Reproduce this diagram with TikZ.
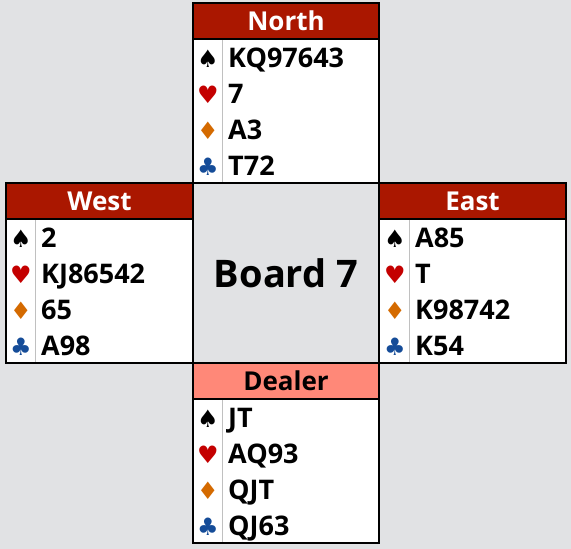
\documentclass[tikz,border=0pt]{standalone}
\usepackage{fontspec}
\setmainfont{Open Sans}[BoldFont={Open Sans Bold}]
\newfontfamily\suitfont{DejaVu Sans}
\definecolor{bggray}{HTML}{E1E2E4}
\definecolor{seatred}{HTML}{AA1700}
\definecolor{dealerpink}{HTML}{FF8878}
\definecolor{heartred}{HTML}{C40000}
\definecolor{diamondorange}{HTML}{D46A00}
\definecolor{clubblue}{HTML}{154C98}
\definecolor{rulegray}{HTML}{C0C0C0}

\begin{document}
\begin{tikzpicture}[x=1pt,y=-1pt,
  hand/.style={draw=black,line width=1.2pt,fill=white},
  seat/.style={draw=black,line width=1.2pt},
  seatname/.style={inner sep=0pt,font=\fontsize{26}{26}\selectfont\bfseries},
  rule/.style={draw=rulegray,line width=0.9pt},
  suit/.style={inner sep=0pt,font=\suitfont\fontsize{24}{24}\selectfont},
  cards/.style={inner sep=0pt,anchor=base west,font=\fontsize{27}{27}\selectfont\bfseries}]
\fill [bggray] (0,0) rectangle (571,549);
\useasboundingbox (0,0) rectangle (571,549);

% North
\draw [hand] (193,3) rectangle (379,183);
\draw [seat,fill=seatred] (193,3) rectangle (379,39);
\node [seatname,text=white] (north) at (286,21) {North};
\draw [rule] (222,40) -- (222,182);
\node [suit] (north-s) at (208,59) {♠};
\node [suit,text=heartred] (north-h) at (208,95) {♥};
\node [suit,text=diamondorange] (north-d) at (208,131) {♦};
\node [suit,text=clubblue] (north-c) at (208,167) {♣};
\node [cards] (north-sc) at (228,67) {KQ97643};
\node [cards] (north-hc) at (228,103) {7};
\node [cards] (north-dc) at (228,139) {A3};
\node [cards] (north-cc) at (228,175) {T72};

% West
\draw [hand] (6,183) rectangle (193,363);
\draw [seat,fill=seatred] (6,183) rectangle (193,219);
\node [seatname,text=white] (west) at (99.5,201) {West};
\draw [rule] (35,220) -- (35,362);
\node [suit] (west-s) at (21,239) {♠};
\node [suit,text=heartred] (west-h) at (21,275) {♥};
\node [suit,text=diamondorange] (west-d) at (21,311) {♦};
\node [suit,text=clubblue] (west-c) at (21,347) {♣};
\node [cards] (west-sc) at (41,247) {2};
\node [cards] (west-hc) at (41,283) {KJ86542};
\node [cards] (west-dc) at (41,319) {65};
\node [cards] (west-cc) at (41,355) {A98};

% East
\draw [hand] (379,183) rectangle (566,363);
\draw [seat,fill=seatred] (379,183) rectangle (566,219);
\node [seatname,text=white] (east) at (472.5,201) {East};
\draw [rule] (409,220) -- (409,362);
\node [suit] (east-s) at (395,239) {♠};
\node [suit,text=heartred] (east-h) at (395,275) {♥};
\node [suit,text=diamondorange] (east-d) at (395,311) {♦};
\node [suit,text=clubblue] (east-c) at (395,347) {♣};
\node [cards] (east-sc) at (415,247) {A85};
\node [cards] (east-hc) at (415,283) {T};
\node [cards] (east-dc) at (415,319) {K98742};
\node [cards] (east-cc) at (415,355) {K54};

% South (dealer)
\draw [hand] (193,363) rectangle (379,543);
\draw [seat,fill=dealerpink] (193,363) rectangle (379,399);
\node [seatname,text=black] (dealer) at (286,381) {Dealer};
\draw [rule] (222,400) -- (222,542);
\node [suit] (south-s) at (208,419) {♠};
\node [suit,text=heartred] (south-h) at (208,455) {♥};
\node [suit,text=diamondorange] (south-d) at (208,491) {♦};
\node [suit,text=clubblue] (south-c) at (208,527) {♣};
\node [cards] (south-sc) at (228,427) {JT};
\node [cards] (south-hc) at (228,463) {AQ93};
\node [cards] (south-dc) at (228,499) {QJT};
\node [cards] (south-cc) at (228,535) {QJ63};

% board number
\node [inner sep=0pt,font=\fontsize{38}{38}\selectfont\bfseries] (board) at (286,273) {Board 7};
\end{tikzpicture}
\end{document}
